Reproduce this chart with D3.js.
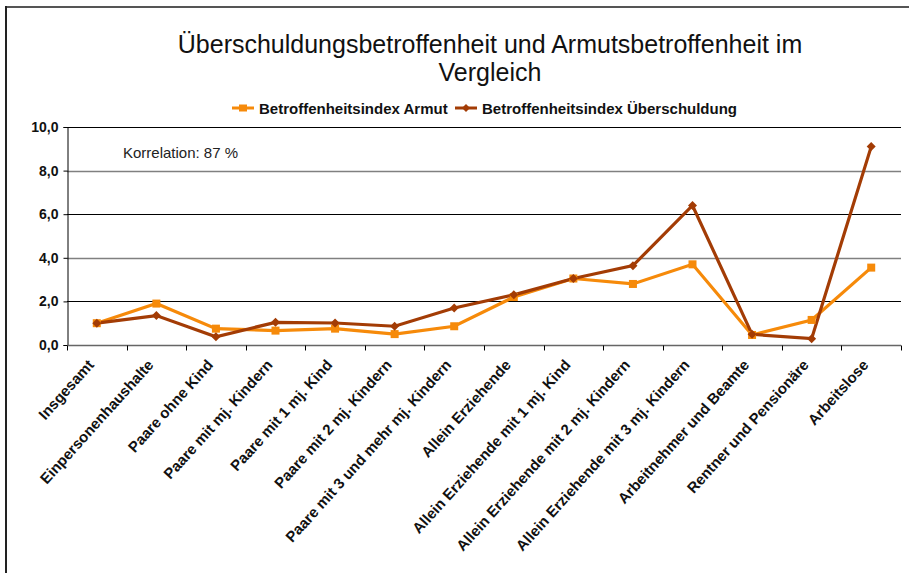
<!DOCTYPE html>
<html>
<head>
<meta charset="utf-8">
<script src="https://cdn.jsdelivr.net/npm/d3@7"></script>
<style>
  body { margin: 0; background: #fff; }
  svg { display: block; font-family: "Liberation Sans", Arial, sans-serif; }
</style>
</head>
<body>
<div id="chart"></div>
<script>
// data
const categories = [
  "Insgesamt",
  "Einpersonenhaushalte",
  "Paare ohne Kind",
  "Paare mit mj. Kindern",
  "Paare mit 1 mj. Kind",
  "Paare mit 2 mj. Kindern",
  "Paare mit 3 und mehr mj. Kindern",
  "Allein Erziehende",
  "Allein Erziehende mit 1 mj. Kind",
  "Allein Erziehende mit 2 mj. Kindern",
  "Allein Erziehende mit 3 mj. Kindern",
  "Arbeitnehmer und Beamte",
  "Rentner und Pensionäre",
  "Arbeitslose"
]
const armut = [1.0, 1.9, 0.75, 0.66, 0.75, 0.5, 0.86, 2.2, 3.05, 2.8, 3.7, 0.46, 1.15, 3.55]
const ueberschuldung = [1.0, 1.35, 0.38, 1.04, 1.01, 0.86, 1.7, 2.3, 3.05, 3.64, 6.4, 0.49, 0.29, 9.1]
const yTicks = [0, 2, 4, 6, 8, 10]

const seriesNames = ["Betroffenheitsindex Armut", "Betroffenheitsindex Überschuldung"]
const colors = ["#f68a0a", "#a33c05"]

const width = 909
const height = 573
const margin = { top: 127, right: 8, bottom: 228, left: 67 }

const svg = d3.select("#chart").append("svg")
  .attr("width", width)
  .attr("height", height)

// outer frame (top and left edges visible)
svg.append("line")
  .attr("x1", 6).attr("x2", width).attr("y1", 7).attr("y2", 7)
  .attr("stroke", "#555").attr("stroke-width", 2)
svg.append("line")
  .attr("x1", 6).attr("x2", 6).attr("y1", 6).attr("y2", height)
  .attr("stroke", "#222").attr("stroke-width", 2)

const x = d3.scaleBand()
  .domain(categories)
  .range([margin.left, width - margin.right])

const y = d3.scaleLinear()
  .domain([0, 10])
  .range([height - margin.bottom, margin.top])

// gridlines, alternate ones look grey and heavier in the original
svg.append("g")
  .selectAll("line")
  .data(yTicks.filter(d => d > 0))
  .join("line")
  .attr("x1", margin.left)
  .attr("x2", width - margin.right)
  .attr("y1", d => Math.round(y(d)) + 0.5)
  .attr("y2", d => Math.round(y(d)) + 0.5)
  .attr("stroke", d => (d % 4 === 0 ? "#808080" : "#000"))
  .attr("stroke-width", d => (d % 4 === 0 ? 1.6 : 1))

// y axis
const yAxis = svg.append("g")
  .attr("transform", `translate(${margin.left + 0.5},0)`)
  .call(d3.axisLeft(y).tickValues(yTicks).tickSize(4)
    .tickFormat(d => d3.format(".1f")(d).replace(".", ",")))
yAxis.select(".domain").attr("stroke", "#000")
yAxis.selectAll(".tick line").attr("stroke", "#000")
yAxis.selectAll("text")
  .attr("x", -9)
  .attr("font-size", 14)
  .attr("font-weight", "bold")
  .attr("font-family", "Liberation Sans, Arial, sans-serif")
  .attr("fill", "#111")

// x axis with ticks on band boundaries
const xAxisG = svg.append("g")
  .attr("transform", `translate(0,${Math.round(y(0)) + 0.5})`)
xAxisG.append("line")
  .attr("x1", margin.left).attr("x2", width - margin.right)
  .attr("stroke", "#666").attr("stroke-width", 1.5)
xAxisG.selectAll(".tk")
  .data(categories.concat([null]))
  .join("line")
  .attr("class", "tk")
  .attr("x1", (d, i) => Math.round(margin.left + i * x.bandwidth()) + 0.5)
  .attr("x2", (d, i) => Math.round(margin.left + i * x.bandwidth()) + 0.5)
  .attr("y1", 0).attr("y2", 5)
  .attr("stroke", "#000")

xAxisG.selectAll("text")
  .data(categories)
  .join("text")
  .attr("transform", d => `translate(${x(d) + x.bandwidth() / 2 - 2},20) rotate(-48)`)
  .attr("text-anchor", "end")
  .attr("font-size", 15)
  .attr("font-weight", "bold")
  .attr("fill", "#111")
  .text(d => d)

// lines and markers
const line = d3.line()
  .x((d, i) => x(categories[i]) + x.bandwidth() / 2)
  .y(d => y(d))

const allSeries = [armut, ueberschuldung]

svg.append("g")
  .selectAll("path")
  .data(allSeries)
  .join("path")
  .attr("fill", "none")
  .attr("stroke", (d, i) => colors[i])
  .attr("stroke-width", 3.2)
  .attr("stroke-linejoin", "miter")
  .attr("d", line)

// square markers for Armut
svg.append("g")
  .selectAll("rect")
  .data(armut)
  .join("rect")
  .attr("x", (d, i) => x(categories[i]) + x.bandwidth() / 2 - 4)
  .attr("y", d => y(d) - 4)
  .attr("width", 8)
  .attr("height", 8)
  .attr("fill", colors[0])

// diamond markers for Überschuldung
svg.append("g")
  .selectAll("path")
  .data(ueberschuldung)
  .join("path")
  .attr("transform", (d, i) => `translate(${x(categories[i]) + x.bandwidth() / 2},${y(d)})`)
  .attr("d", "M0,-4.5L4.5,0L0,4.5L-4.5,0Z")
  .attr("fill", colors[1])

// title
const title = svg.append("text")
  .attr("text-anchor", "middle")
  .attr("font-size", 25)
  .attr("fill", "#111")
title.append("tspan").attr("x", 490).attr("y", 53)
  .text("Überschuldungsbetroffenheit und Armutsbetroffenheit im")
title.append("tspan").attr("x", 490).attr("y", 81)
  .text("Vergleich")

// legend
const legendX = [232, 455]
const legend = svg.append("g")
  .selectAll("g")
  .data(seriesNames)
  .join("g")
  .attr("transform", (d, i) => `translate(${legendX[i]},108)`)

legend.append("line")
  .attr("x1", 0).attr("x2", 22)
  .attr("stroke", (d, i) => colors[i])
  .attr("stroke-width", 3)
legend.append("path")
  .attr("d", (d, i) => i === 0 ? "M7,-3.5h8v7h-8Z" : "M11,-4L15,0L11,4L7,0Z")
  .attr("fill", (d, i) => colors[i])
legend.append("text")
  .attr("x", 27)
  .attr("y", 6)
  .attr("font-size", 15)
  .attr("font-weight", "bold")
  .attr("fill", "#111")
  .text(d => d)

// correlation note
svg.append("text")
  .attr("x", 123)
  .attr("y", 158)
  .attr("font-size", 15)
  .attr("fill", "#222")
  .text("Korrelation: 87 %")
</script>
</body>
</html>
